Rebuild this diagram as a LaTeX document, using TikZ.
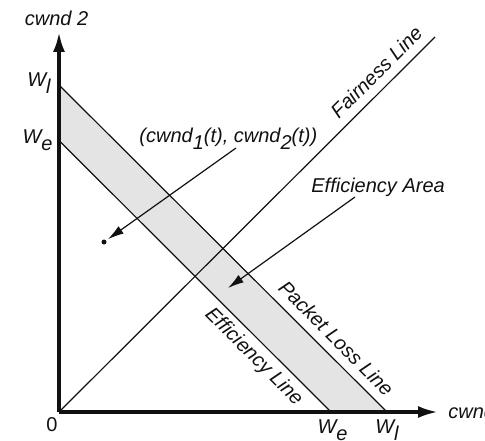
\documentclass[tikz,border=0pt]{standalone}
\usepackage{fontspec}
\setsansfont{Liberation Sans}
\usetikzlibrary{positioning, arrows.meta}
\definecolor{band}{HTML}{E4E4E4}
\definecolor{ink}{HTML}{111111}
\newcommand{\lowsub}[1]{\raisebox{-0.36em}{#1}}

\begin{document}
\begin{tikzpicture}[x=0.5pt, y=0.5pt, font=\sffamily\itshape\fontsize{10}{12}\selectfont, text=ink,
    axis/.style={draw=ink, line width=1.7pt, -{Latex[length=10pt, width=6pt]}},
    limit/.style={draw=ink, line width=0.6pt},
    pointer/.style={limit, -{Latex[length=8pt, width=4.5pt]}}]
  \useasboundingbox (-59,-28) rectangle (426,412);
  % Corner points on both axes.
  \coordinate (O) at (0,0);
  \coordinate (we y) at (0,271.5);
  \coordinate (wl y) at (0,327);
  \coordinate (we x) at (272,0);
  \coordinate (wl x) at (328,0);
  \coordinate (fair) at (376,375);
  \coordinate (ytip) at (0,380);
  \coordinate (xtip) at (379,0);

  % Band between efficiency line and packet loss line.
  \fill[band] (we y) -- (wl y) -- (wl x) -- (we x) -- cycle;
  \draw[limit] (we y) -- (we x) node[pos=0.757, sloped, below, inner sep=3pt] (effline) {Efficiency Line};
  \draw[limit] (wl y) -- (wl x) node[pos=0.81, sloped, above, inner sep=4.3pt] (lossline) {Packet Loss Line};
  \draw[limit] (O) -- (fair) node[pos=0.875, sloped, above, inner sep=4.3pt] (fairline) {Fairness Line};

  % Axes.
  \draw[axis] (O) -- (ytip);
  \draw[axis] (O) -- (xtip);
  \node[anchor=base] (ylab) at (-2.5,386) {cwnd 2};
  \node[anchor=base west, inner sep=0pt] (xlab) at (389,-6) {cwnd 1};
  \node[anchor=base, font=\sffamily\upshape\fontsize{10}{12}\selectfont] (zero) at (-7,-19) {0};
  \node[anchor=base east, inner sep=0pt] (wl left) at (-8,326) {W\lowsub{l}};
  \node[anchor=base east, inner sep=0pt] (we left) at (-6,269) {W\lowsub{e}};
  \node[anchor=base, inner sep=0pt] (we below) at (273.5,-21) {W\lowsub{e}};
  \node[anchor=base, inner sep=0pt] (wl below) at (328,-21) {W\lowsub{l}};

  % Operating point and the efficiency area.
  \node[circle, fill=ink, inner sep=0pt, minimum size=2.5pt] (pt) at (45,170) {};
  \node[anchor=base west, inner sep=0pt] (ptlab) at (80,270) {(cwnd\lowsub{1}(t), cwnd\lowsub{2}(t))};
  \coordinate (ptfrom) at (177,264);
  \draw[pointer, shorten >=1pt] (ptfrom) -- (pt);
  \node[anchor=base west, inner sep=0pt] (arealab) at (252,220) {Efficiency Area};
  \coordinate (areafrom) at (296,215);
  \coordinate (area) at (169,124);
  \draw[pointer] (areafrom) -- (area);
\end{tikzpicture}
\end{document}
